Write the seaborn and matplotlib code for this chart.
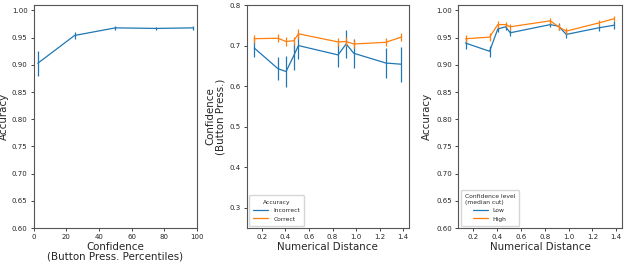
import numpy as np
import pandas as pd
import matplotlib
matplotlib.use('Agg')
import matplotlib.pyplot as plt
import seaborn as sns

sns.set_style('ticks')
plt.rcParams['font.family'] = ['DejaVu Sans']

# Панель 1: точность по перцентилям уверенности
conf_pct = [2.5, 25, 50, 75, 97.5]
acc_by_conf = [0.903, 0.954, 0.968, 0.967, 0.968]
acc_by_conf_err = [0.023, 0.006, 0.004, 0.003, 0.003]

# Числовая дистанция (общая для панелей 2 и 3)
distance = [0.134, 0.336, 0.405, 0.470, 0.510, 0.847, 0.916, 0.981, 1.253, 1.386]

# Панель 2: уверенность по дистанции
conf_incorrect = [0.694, 0.643, 0.636, 0.675, 0.700, 0.677, 0.704, 0.681, 0.657, 0.654]
conf_incorrect_err = [0.023, 0.029, 0.038, 0.035, 0.032, 0.030, 0.035, 0.036, 0.037, 0.043]
conf_correct = [0.717, 0.718, 0.710, 0.712, 0.729, 0.709, 0.710, 0.704, 0.708, 0.721]
conf_correct_err = [0.010, 0.010, 0.010, 0.010, 0.012, 0.010, 0.010, 0.010, 0.010, 0.010]

# Панель 3: точность по дистанции
acc_low = [0.940, 0.925, 0.966, 0.970, 0.959, 0.974, 0.971, 0.956, 0.968, 0.973]
acc_low_err = [0.010, 0.010, 0.006, 0.005, 0.006, 0.005, 0.006, 0.006, 0.006, 0.007]
acc_high = [0.948, 0.951, 0.974, 0.974, 0.970, 0.981, 0.970, 0.962, 0.977, 0.985]
acc_high_err = [0.006, 0.007, 0.006, 0.005, 0.005, 0.005, 0.005, 0.005, 0.005, 0.005]

blue, orange = sns.color_palette('tab10')[:2]

fig = plt.figure(figsize=(6.25, 2.64), dpi=100)
ax1 = fig.add_axes([0.054, 0.136, 0.261, 0.845])
ax2 = fig.add_axes([0.395, 0.136, 0.259, 0.845])
ax3 = fig.add_axes([0.733, 0.136, 0.262, 0.845])

label_fs = 7.4
tick_fs = 5
leg_fs = 4.3


def draw(ax, x, y, err, color, label=None):
    df = pd.DataFrame({'x': x, 'y': y})
    sns.lineplot(data=df, x='x', y='y', ax=ax, color=color, lw=0.9, label=label, errorbar=None)
    ax.errorbar(x, y, yerr=err, fmt='none', ecolor=color, elinewidth=0.9)


# Панель 1
draw(ax1, conf_pct, acc_by_conf, acc_by_conf_err, blue)
ax1.set_xlim(0, 100)
ax1.set_ylim(0.6, 1.01)
ax1.set_yticks(np.arange(0.6, 1.001, 0.05))
ax1.set_xlabel('Confidence\n(Button Press. Percentiles)', fontsize=label_fs, labelpad=1, linespacing=1.0)
ax1.set_ylabel('Accuracy', fontsize=label_fs, labelpad=2)

# Панель 2
draw(ax2, distance, conf_incorrect, conf_incorrect_err, blue, 'Incorrect')
draw(ax2, distance, conf_correct, conf_correct_err, orange, 'Correct')
ax2.set_ylim(0.25, 0.8)
ax2.set_yticks(np.arange(0.3, 0.801, 0.1))
ax2.set_xticks(np.arange(0.2, 1.41, 0.2))
ax2.set_xlabel('Numerical Distance', fontsize=label_fs, labelpad=1)
ax2.set_ylabel('Confidence\n(Button Press.)', fontsize=label_fs, labelpad=3, linespacing=1.0)
ax2.legend(title='Accuracy', loc='lower left', fontsize=leg_fs, title_fontsize=leg_fs,
           handlelength=2.5, borderpad=0.7, labelspacing=0.55, borderaxespad=0.4)

# Панель 3
draw(ax3, distance, acc_low, acc_low_err, blue, 'Low')
draw(ax3, distance, acc_high, acc_high_err, orange, 'High')
ax3.set_ylim(0.6, 1.01)
ax3.set_yticks(np.arange(0.6, 1.001, 0.05))
ax3.set_xticks(np.arange(0.2, 1.41, 0.2))
ax3.set_xlabel('Numerical Distance', fontsize=label_fs, labelpad=1)
ax3.set_ylabel('Accuracy', fontsize=label_fs, labelpad=3)
ax3.legend(title='Confidence level\n(median cut)', loc='lower left', fontsize=leg_fs, title_fontsize=leg_fs,
           handlelength=2.5, borderpad=0.7, labelspacing=0.55, borderaxespad=0.4)

for ax in (ax1, ax2, ax3):
    ax.tick_params(labelsize=tick_fs, length=2.5, width=0.6, pad=2)
    for s in ax.spines.values():
        s.set_color('#555555')
        s.set_linewidth(0.8)
ax1.set_yticklabels([f'{v:.2f}' for v in np.arange(0.6, 1.001, 0.05)])
ax3.set_yticklabels([f'{v:.2f}' for v in np.arange(0.6, 1.001, 0.05)])

fig.savefig('out.png', dpi=100)
